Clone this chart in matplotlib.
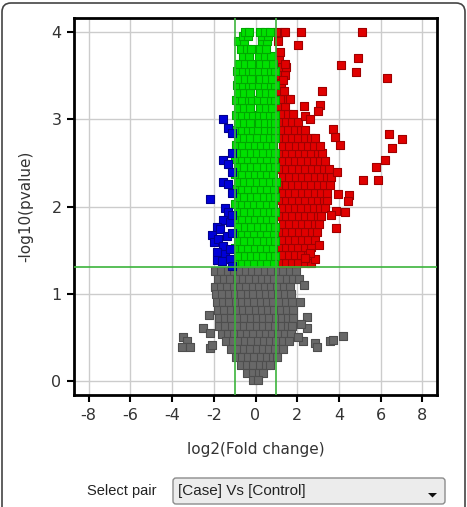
import matplotlib
matplotlib.use("Agg")
import matplotlib.pyplot as plt
from matplotlib.patches import FancyBboxPatch, Polygon
from matplotlib.transforms import IdentityTransform

plt.rcParams['font.family'] = ['DejaVu Sans']
plt.rcParams['axes.unicode_minus'] = False

# x = log2(fold change), y = -log10(pvalue)
grey_y = [1.26, 1.17, 1.08, 0.99, 0.90, 0.81, 0.72, 0.63, 0.54, 0.45, 0.36, 0.27, 0.18, 0.09, 0.01]
grey_x = [
    [-1.96, -1.66, -1.33, -1.04, -0.76, -0.44, -0.16, 0.14, 0.46, 0.74, 1.06, 1.34, 1.66, 1.94],
    [-1.82, -1.5, -1.21, -0.88, -0.6, -0.31, 0.02, 0.3, 0.61, 0.9, 1.19, 1.52, 1.82, 2.08],
    [-1.95, -1.64, -1.36, -1.05, -0.74, -0.46, -0.14, 0.16, 0.44, 0.76, 1.04, 1.36, 1.66],
    [-1.88, -1.6, -1.28, -1.0, -0.71, -0.38, -0.1, 0.21, 0.5, 0.81, 1.1, 1.4, 1.72],
    [-1.86, -1.54, -1.26, -0.94, -0.66, -0.34, -0.05, 0.26, 0.54, 0.86, 1.14, 1.46, 1.76],
    [-1.8, -1.5, -1.19, -0.9, -0.59, -0.3, 0.01, 0.3, 0.6, 0.9, 1.21, 1.5, 1.8],
    [-1.76, -1.44, -1.16, -0.84, -0.56, -0.24, 0.05, 0.36, 0.64, 0.96, 1.25, 1.56, 1.82],
    [-1.74, -1.46, -1.14, -0.86, -0.54, -0.26, 0.06, 0.34, 0.66, 0.94, 1.26, 1.54, 1.76],
    [-1.6, -1.3, -1.01, -0.7, -0.4, -0.1, 0.2, 0.5, 0.8, 1.1, 1.4, 1.7],
    [-1.42, -1.1, -0.8, -0.5, -0.2, 0.1, 0.4, 0.7, 1.0, 1.3, 1.6],
    [-1.16, -0.86, -0.55, -0.25, 0.05, 0.35, 0.65, 0.95, 1.3],
    [-0.95, -0.65, -0.35, -0.05, 0.25, 0.55, 0.85, 1.02],
    [-0.7, -0.4, -0.1, 0.2, 0.48, 0.7],
    [-0.4, -0.12, 0.15, 0.38],
    [-0.1, 0.1],
]
grey_out_x = [-3.48, -3.28, -3.53, -3.13, -2.25, -2.52, -2.17, -2.08, -2.2, 2.45, 2.45,
              2.26, 2.85, 2.93, 3.57, 3.73, 4.17, 2.33, 2.15, 2.2, 2.05]
grey_out_y = [0.50, 0.45, 0.39, 0.39, 0.75, 0.60, 0.37, 0.41, 0.55, 0.73, 0.60,
              0.45, 0.43, 0.39, 0.45, 0.47, 0.51, 1.10, 0.90, 0.65, 0.50]

green_y = [1.35, 1.43, 1.52, 1.60, 1.69, 1.77, 1.86, 1.94, 2.03, 2.11, 2.20, 2.28, 2.37,
           2.45, 2.54, 2.62, 2.71, 2.79, 2.88, 2.96, 3.05, 3.13, 3.22, 3.30, 3.39, 3.47,
           3.56, 3.64, 3.73, 3.81, 3.90, 3.96, 4.00]
green_x = [
    [-0.95, -0.66, -0.34, -0.05, 0.27, 0.56, 0.88],
    [-0.83, -0.52, -0.22, 0.09, 0.38, 0.69, 0.93],
    [-0.97, -0.63, -0.36, -0.04, 0.24, 0.55, 0.86],
    [-0.86, -0.55, -0.24, 0.08, 0.4, 0.7, 0.95],
    [-0.95, -0.67, -0.35, -0.06, 0.25, 0.57, 0.87],
    [-0.84, -0.52, -0.2, 0.1, 0.41, 0.71, 0.94],
    [-0.96, -0.64, -0.33, -0.03, 0.26, 0.55, 0.85],
    [-0.85, -0.54, -0.23, 0.07, 0.39, 0.68, 0.95],
    [-0.97, -0.66, -0.36, -0.05, 0.23, 0.54, 0.86],
    [-0.83, -0.53, -0.21, 0.09, 0.4, 0.7, 0.93],
    [-0.95, -0.64, -0.34, -0.04, 0.27, 0.57, 0.88],
    [-0.86, -0.55, -0.25, 0.06, 0.37, 0.68, 0.96],
    [-0.96, -0.65, -0.33, -0.02, 0.25, 0.55, 0.85],
    [-0.84, -0.53, -0.22, 0.08, 0.4, 0.71, 0.94],
    [-0.97, -0.66, -0.35, -0.05, 0.24, 0.56, 0.87],
    [-0.85, -0.54, -0.24, 0.07, 0.38, 0.69, 0.95],
    [-0.95, -0.63, -0.32, -0.03, 0.26, 0.55, 0.86],
    [-0.86, -0.56, -0.25, 0.08, 0.39, 0.7, 0.93],
    [-0.96, -0.66, -0.36, -0.1, 0.14, 0.45, 0.76, 0.95],
    [-0.85, -0.55, -0.27, 0.17, 0.44, 0.72, 0.94],
    [-0.95, -0.63, -0.34, -0.14, 0.15, 0.4, 0.68, 0.92],
    [-0.86, -0.57, -0.27, 0.2, 0.5, 0.8],
    [-0.93, -0.63, -0.33, -0.15, 0.14, 0.43, 0.74, 0.95],
    [-0.84, -0.55, -0.26, 0.2, 0.5, 0.78],
    [-0.9, -0.6, -0.32, -0.14, 0.16, 0.45, 0.75, 0.93],
    [-0.82, -0.52, -0.24, 0.22, 0.52, 0.8],
    [-0.9, -0.6, -0.3, -0.12, 0.15, 0.45, 0.76, 0.95],
    [-0.8, -0.5, -0.22, 0.22, 0.52, 0.82],
    [-0.62, -0.32, 0.17, 0.45, 0.76],
    [-0.7, -0.42, -0.22, 0.22, 0.5],
    [-0.85, -0.55, 0.3, 0.55],
    [-0.62, -0.38, 0.3, 0.6],
    [-0.5, -0.3, 0.22, 0.45, 0.7],
]

red_y = [1.35, 1.44, 1.53, 1.62, 1.71, 1.80, 1.89, 1.98, 2.07, 2.16, 2.25, 2.34, 2.43,
         2.52, 2.61, 2.70, 2.79, 2.88, 2.97, 3.06, 3.15, 3.24, 3.33, 3.42, 3.51, 3.60,
         3.69, 3.78, 3.90, 4.00]
red_x = [
    [1.15, 1.45, 1.76, 2.06, 2.37, 2.66],
    [1.28, 1.6, 1.9, 2.2, 2.5],
    [1.14, 1.45, 1.75, 2.05, 2.36, 2.68],
    [1.28, 1.6, 1.9, 2.22, 2.52, 2.83],
    [1.15, 1.46, 1.77, 2.08, 2.38, 2.7, 2.95],
    [1.3, 1.6, 1.92, 2.22, 2.53, 2.85, 3.05],
    [1.15, 1.45, 1.76, 2.07, 2.37, 2.68, 2.98, 3.15],
    [1.3, 1.6, 1.9, 2.2, 2.5, 2.8, 3.1, 3.35],
    [1.15, 1.45, 1.76, 2.07, 2.38, 2.7, 3.0, 3.3, 3.45],
    [1.3, 1.6, 1.9, 2.22, 2.52, 2.83, 3.14, 3.45],
    [1.14, 1.45, 1.76, 2.06, 2.37, 2.68, 3.0, 3.3, 3.55],
    [1.3, 1.6, 1.92, 2.22, 2.53, 2.84, 3.15, 3.45, 3.6],
    [1.15, 1.46, 1.77, 2.08, 2.38, 2.7, 3.0, 3.3, 3.5],
    [1.3, 1.6, 1.9, 2.2, 2.5, 2.8, 3.1, 3.35],
    [1.15, 1.45, 1.76, 2.07, 2.38, 2.68, 2.98, 3.2],
    [1.3, 1.6, 1.92, 2.22, 2.52, 2.82, 3.08],
    [1.15, 1.45, 1.75, 2.06, 2.36, 2.65, 2.85],
    [1.28, 1.58, 1.88, 2.18, 2.35],
    [1.15, 1.45, 1.75, 2.02],
    [1.28, 1.55, 1.8],
    [1.13, 1.42],
    [1.28, 1.55],
    [1.12, 1.38],
    [1.2],
    [1.1, 1.4],
    [1.25, 1.45],
    [1.12],
    [1.18],
    [1.08],
    [1.05, 1.35],
]
red_out_x = [5.12, 2.2, 1.42, 2.05, 4.89, 4.1, 4.81, 6.28, 3.17, 3.09, 2.33, 3.0, 3.73,
             3.8, 4.05, 6.39, 7.01, 6.55, 6.23, 5.76, 5.16, 5.88, 3.89, 3.97, 4.48, 4.42,
             4.29, 3.84, 3.62, 3.84, 3.04, 2.85, 2.61, 2.38, 1.66, 1.42, 1.34, 2.37, 2.6]
red_out_y = [4.0, 4.0, 4.0, 3.85, 3.70, 3.62, 3.54, 3.48, 3.33, 3.17, 3.15, 3.1, 2.89,
             2.80, 2.71, 2.83, 2.78, 2.67, 2.53, 2.45, 2.30, 2.30, 2.40, 2.14, 2.13, 2.06,
             1.94, 1.95, 1.90, 1.75, 1.56, 1.40, 1.47, 1.41, 3.24, 3.64, 3.45, 3.04, 3.0]

blue_x = [-1.58, -1.33, -1.13, -1.54, -1.3, -1.54, -1.3, -2.17, -1.45, -1.3, -1.54, -1.2,
          -1.85, -2.09, -1.7, -1.37, -2.0, -1.78, -1.54, -1.86, -1.45, -1.86, -1.62, -1.2,
          -1.2, -1.12, -1.12, -1.12, -1.12, -1.15, -1.15]
blue_y = [3.0, 2.9, 2.84, 2.53, 2.49, 2.28, 2.26, 2.09, 1.98, 1.94, 1.84, 1.82, 1.77, 1.67,
          1.74, 1.66, 1.59, 1.63, 1.55, 1.48, 1.46, 1.38, 1.37, 1.51, 1.4, 2.62, 2.4, 2.15,
          1.9, 1.7, 1.32]

fc_cut = 1.0
p_cut = 1.3


def expand(ys, rows):
    xs_out, ys_out = [], []
    for y, row in zip(ys, rows):
        for x in row:
            xs_out.append(x)
            ys_out.append(y)
    return xs_out, ys_out


gx, gy = expand(grey_y, grey_x)
grx, gry = expand(green_y, green_x)
rx, ry = expand(red_y, red_x)

fig = plt.figure(figsize=(4.67, 5.07), dpi=100)
ax = fig.add_axes([0.1585, 0.2209, 0.7773, 0.7436])

ms = 30
ax.scatter(gx + grey_out_x, gy + grey_out_y, s=ms, marker='s', c='#686868',
           edgecolors='#4e4e4e', linewidths=0.8, zorder=2)
ax.scatter(rx + red_out_x, ry + red_out_y, s=ms, marker='s', c='#e00000',
           edgecolors='#a00000', linewidths=0.8, zorder=3)
ax.scatter(grx, gry, s=ms, marker='s', c='#00e000',
           edgecolors='#00a800', linewidths=0.8, zorder=4)
ax.scatter(blue_x, blue_y, s=ms, marker='s', c='#0000d8',
           edgecolors='#000090', linewidths=0.8, zorder=5)

# threshold lines
ax.axhline(p_cut, color='#3cb43c', lw=1.2, zorder=6)
ax.axvline(-fc_cut, color='#3cb43c', lw=1.2, zorder=6)
ax.axvline(fc_cut, color='#3cb43c', lw=1.2, zorder=6)

ax.set_xlim(-8.7, 8.7)
ax.set_ylim(-0.165, 4.165)
ax.set_xticks(range(-8, 9, 2))
ax.set_yticks(range(0, 5))
ax.grid(True, color='#cccccc', lw=1)
ax.set_axisbelow(True)
for sp in ax.spines.values():
    sp.set_linewidth(2)
ax.tick_params(direction='out', length=5, width=1.5, pad=4, labelsize=11.5,
               labelcolor='#333333')

ax.set_xlabel('log2(Fold change)', fontsize=11, color='#333333')
ax.set_ylabel('-log10(pvalue)', fontsize=11, color='#333333')
ax.xaxis.set_label_coords(0.5, -0.125)
ax.yaxis.set_label_coords(-0.112, 0.5)

# outer panel frame and the pair selector below the plot
fig.add_artist(FancyBboxPatch((2, -20), 463, 524, boxstyle='round,pad=0,rounding_size=9',
                              transform=IdentityTransform(), fc='none', ec='#444444', lw=1.2))
fig.add_artist(FancyBboxPatch((173, 3), 272, 26, boxstyle='round,pad=0,rounding_size=3',
                              transform=IdentityTransform(), fc='#ececec', ec='#8c8c8c', lw=1))
fig.add_artist(Polygon([(428, 14), (437, 14), (432.5, 9.5)], closed=True,
                       transform=IdentityTransform(), fc='#111111', ec='none'))
fig.text(122 / 467, 15.5 / 507, 'Select pair', ha='center', va='center', fontsize=10.5,
         family=['Liberation Sans', 'DejaVu Sans'], color='#222222')
fig.text(178 / 467, 15.5 / 507, '[Case] Vs [Control]', ha='left', va='center', fontsize=11,
         family=['Liberation Sans', 'DejaVu Sans'], color='#222222')

fig.savefig('out.png', dpi=100)
